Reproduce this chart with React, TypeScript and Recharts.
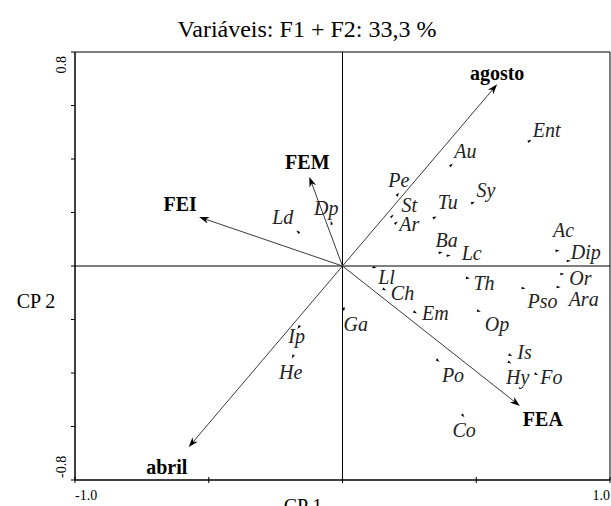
import { ReferenceLine, Scatter, ScatterChart, XAxis, YAxis } from "recharts"

// species scores (CP 1, CP 2)
const speciesNames = ["Ent", "Au", "Pe", "St", "Ar", "Tu", "Sy", "Ba", "Lc", "Ac", "Dip", "Ll", "Ch", "Th", "Or", "Pso", "Ara", "Em", "Op", "Ga", "Ip", "He", "Po", "Is", "Hy", "Fo", "Co", "Ld", "Dp"]
const speciesCp1 = [0.7, 0.407, 0.207, 0.186, 0.201, 0.345, 0.488, 0.367, 0.397, 0.804, 0.846, 0.12, 0.157, 0.469, 0.822, 0.677, 0.808, 0.272, 0.51, 0.005, -0.164, -0.186, 0.357, 0.628, 0.625, 0.725, 0.451, -0.167, -0.042]
const speciesCp2 = [0.468, 0.378, 0.268, 0.187, 0.162, 0.182, 0.237, 0.05, 0.039, 0.057, 0.019, -0.005, -0.088, -0.045, -0.03, -0.083, -0.079, -0.174, -0.169, -0.163, -0.229, -0.339, -0.354, -0.334, -0.361, -0.405, -0.56, 0.128, 0.162]

// environmental variables (arrows)
const vectorNames = ["agosto", "abril", "FEI", "FEM", "FEA"]
const vectorCp1 = [0.578, -0.575, -0.536, -0.124, 0.663]
const vectorCp2 = [0.679, -0.677, 0.183, 0.333, -0.523]

const xTicks = [-1, -0.5, 0, 0.5, 1]
const yTicks = [-0.8, -0.6, -0.4, -0.2, 0, 0.2, 0.4, 0.6, 0.8]

// label placement, pixels from the mark
const SPECIES_LABEL_OFFSET: Record<string, [number, number]> = {
  Ent: [17, -11], Au: [14, -14], Pe: [1, -14], St: [17, -11], Ar: [13, 1],
  Tu: [13, -15], Sy: [13, -13], Ba: [6, -13], Lc: [23, -3], Ac: [6, -21],
  Dip: [17, -9], Ll: [12, 10], Ch: [18, 3], Th: [16, 5], Or: [18, 4],
  Pso: [19, 13], Ara: [25, 12], Em: [20, 0], Op: [18, 13], Ga: [12, 14],
  Ip: [-2, 9], He: [-2, 15], Po: [15, 14], Is: [14, -3], Hy: [8, 14],
  Fo: [15, 3], Co: [1, 14], Ld: [-15, -15], Dp: [-5, -15],
}
const VECTOR_LABEL_OFFSET: Record<string, [number, number]> = {
  agosto: [0, -11], abril: [-22, 20], FEI: [-19, -13], FEM: [-2, -15], FEA: [23, 13],
}

const FONT = "Liberation Serif, Tinos, Times New Roman, DejaVu Serif, serif"

const species = speciesNames.map((name, i) => ({ name, x: speciesCp1[i], y: speciesCp2[i] }))
const vectors = vectorNames.map((name, i) => ({ name, x: vectorCp1[i], y: vectorCp2[i] }))

const txt = (size: number, extra: any = {}) => ({ fontFamily: FONT, fontSize: size, ...extra })

function XTick({ x, y, payload }: any) {
  const v = payload.value
  return (
    <g>
      <line x1={x} x2={x} y1={y - 3} y2={y + 3} stroke="#000" />
      {v === -1 && (
        <text x={x} y={y + 20} textAnchor="start" style={txt(14)} fill="#000">-1.0</text>
      )}
      {v === 1 && (
        <text x={x} y={y + 20} textAnchor="end" style={txt(14)} fill="#000">1.0</text>
      )}
    </g>
  )
}

function YTick({ x, y, payload }: any) {
  const v = payload.value
  return (
    <g>
      <line x1={x - 4} x2={x} y1={y} y2={y} stroke="#000" />
      {v === 0.8 && (
        <text transform={`translate(66,${y + 4}) rotate(-90)`} textAnchor="end" style={txt(14)} fill="#000">0.8</text>
      )}
      {v === -0.8 && (
        <text transform={`translate(66,${y - 2}) rotate(-90)`} textAnchor="start" style={txt(14)} fill="#000">-0.8</text>
      )}
    </g>
  )
}

function SpeciesMark(props: any) {
  const { cx, cy, payload } = props
  const len = Math.hypot(payload.x, payload.y) || 1
  const ux = payload.x / len
  const uy = -payload.y / len
  const tipX = cx + ux * 2
  const tipY = cy + uy * 2
  const bx = cx - ux * 2
  const by = cy - uy * 2
  const pts = `${tipX},${tipY} ${bx - uy * 1.3},${by + ux * 1.3} ${bx + uy * 1.3},${by - ux * 1.3}`
  const off = SPECIES_LABEL_OFFSET[payload.name] || [10, 0]
  return (
    <g>
      <polygon points={pts} fill="#000" />
      <text
        x={cx + off[0]}
        y={cy + off[1]}
        textAnchor="middle"
        dominantBaseline="central"
        style={txt(20, { fontStyle: "italic" })}
        fill="#222"
      >
        {payload.name}
      </text>
    </g>
  )
}

function arrowShape(name: string) {
  return (p: any) => {
    const { x1, y1, x2, y2 } = p
    const dx = x2 - x1
    const dy = y2 - y1
    const len = Math.hypot(dx, dy) || 1
    const ux = dx / len
    const uy = dy / len
    const hl = 10
    const hw = 3.5
    const bx = x2 - ux * hl
    const by = y2 - uy * hl
    const pts = `${x2},${y2} ${bx - uy * hw},${by + ux * hw} ${x2 - ux * 7},${y2 - uy * 7} ${bx + uy * hw},${by - ux * hw}`
    const off = VECTOR_LABEL_OFFSET[name]
    return (
      <g>
        <line x1={x1} y1={y1} x2={x2 - ux * 7} y2={y2 - uy * 7} stroke="#3a3a3a" strokeWidth={1} />
        <polygon points={pts} fill="#000" />
        <text
          x={x2 + off[0]}
          y={y2 + off[1]}
          textAnchor="middle"
          dominantBaseline="central"
          style={txt(20, { fontWeight: "bold" })}
          fill="#000"
        >
          {name}
        </text>
      </g>
    )
  }
}

export default function App() {
  return (
    <div style={{ position: "absolute", left: 0, top: 0, width: 611, height: 506, background: "#fff", overflow: "hidden", fontFamily: FONT }}>
      <ScatterChart width={611} height={506} margin={{ top: 52, right: 1, bottom: 6, left: 55 }}>
        <XAxis
          dataKey="x"
          type="number"
          domain={[-1, 1]}
          ticks={xTicks}
          interval={0}
          allowDataOverflow
          height={20}
          tickSize={0}
          tickMargin={0}
          tickLine={false}
          axisLine={{ stroke: "#000" }}
          tick={<XTick />}
        />
        <YAxis
          dataKey="y"
          type="number"
          domain={[-0.8, 0.8]}
          ticks={yTicks}
          interval={0}
          allowDataOverflow
          width={20}
          tickSize={0}
          tickMargin={0}
          tickLine={false}
          axisLine={{ stroke: "#000" }}
          tick={<YTick />}
        />
        <ReferenceLine y={0.8} stroke="#000" />
        <ReferenceLine x={1} stroke="#000" />
        <ReferenceLine y={-0.8} stroke="#000" />
        <ReferenceLine x={-1} stroke="#000" />
        <ReferenceLine y={0} stroke="#000" />
        <ReferenceLine x={0} stroke="#000" />
        {vectors.map((v) => (
          <ReferenceLine
            key={v.name}
            segment={[{ x: 0, y: 0 }, { x: v.x, y: v.y }]}
            shape={arrowShape(v.name)}
          />
        ))}
        <Scatter data={species} shape={<SpeciesMark />} isAnimationActive={false} />
      </ScatterChart>
      <svg width={611} height={506} style={{ position: "absolute", left: 0, top: 0, pointerEvents: "none" }}>
        <text x={307} y={37} textAnchor="middle" style={txt(24)} fill="#000">
          Variáveis: F1 + F2: 33,3 %
        </text>
        <text x={36} y={308} textAnchor="middle" style={txt(20)} fill="#000">CP 2</text>
        <text x={303} y={513} textAnchor="middle" style={txt(20)} fill="#000">CP 1</text>
      </svg>
    </div>
  )
}
